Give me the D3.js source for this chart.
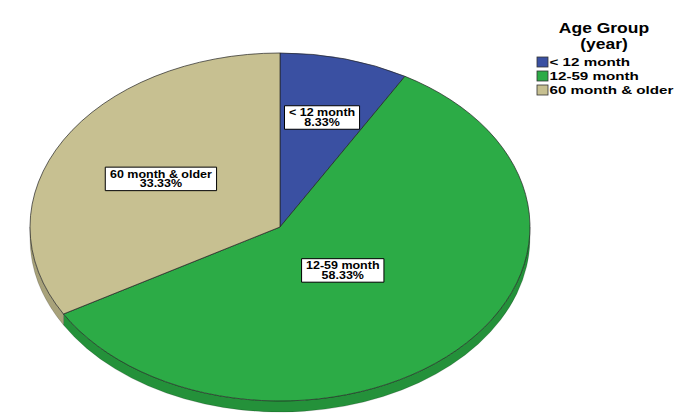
<!DOCTYPE html>
<html>
<head>
<meta charset="utf-8">
<script src="https://cdn.jsdelivr.net/npm/d3@7"></script>
<style>
  body { margin: 0; background: #fff; }
  text { font-family: "Liberation Sans", Arial, sans-serif; font-weight: bold; fill: #000; }
</style>
</head>
<body>
<svg id="chart" width="693" height="418"></svg>
<script>
// data
const categories = ['< 12 month', '12-59 month', '60 month & older']
const percents = [8.33, 58.33, 33.33]
const legendTitle = ['Age Group', '(year)']

const topColors = ['#3a50a2', '#2cab46', '#c7c091']
const sideColors = ['#2e408a', '#24913a', '#a8a27a']
// how far out along the radius each label box sits
const labelRadius = [0.65, 0.355, 0.55]

const width = 693, height = 418
const cx = 280, cy = 227, rx = 250, ry = 174, depth = 11
const squash = ry / rx

const svg = d3.select('#chart')

const pie = d3.pie().sort(null).value(d => d)
const slices = pie(percents).map((d, i) => Object.assign(d, { idx: i }))

const arc = d3.arc().innerRadius(0).outerRadius(rx)

let pieGroup = svg.append('g').attr('class', 'pie')
  .attr('transform', `translate(${cx},${cy}) scale(1,${squash})`)

// side walls, only the front half (angles PI/2 .. 3PI/2 from top) can be seen
const D = depth / squash
const sidePath = (s, e) => {
  const a0 = s - Math.PI / 2, a1 = e - Math.PI / 2
  const p = d3.path()
  p.moveTo(rx * Math.cos(a0), rx * Math.sin(a0))
  p.arc(0, 0, rx, a0, a1, false)
  p.lineTo(rx * Math.cos(a1), rx * Math.sin(a1) + D)
  p.arc(0, D, rx, a1, a0, true)
  p.closePath()
  return p.toString()
}

slices.forEach(d => {
  const s = Math.max(d.startAngle, Math.PI / 2)
  const e = Math.min(d.endAngle, 3 * Math.PI / 2)
  if (e <= s) return
  pieGroup.append('path')
    .attr('class', 'side')
    .attr('d', sidePath(s, e))
    .attr('fill', sideColors[d.idx])
    .attr('stroke', 'rgba(0,0,0,0.35)')
    .attr('stroke-width', 0.5)
    .attr('vector-effect', 'non-scaling-stroke')
})

pieGroup.selectAll('path.slice')
  .data(slices)
  .enter().append('path')
  .attr('class', 'slice')
  .attr('d', arc)
  .attr('fill', d => topColors[d.idx])
  .attr('stroke', '#222')
  .attr('stroke-width', 0.7)
  .attr('vector-effect', 'non-scaling-stroke')

// label boxes
const labelScaleX = 1.25
slices.forEach(d => {
  const mid = (d.startAngle + d.endAngle) / 2
  const f = labelRadius[d.idx]
  const x = cx + rx * f * Math.sin(mid)
  const y = cy - ry * f * Math.cos(mid)
  let lg = svg.append('g').attr('class', 'label')
    .attr('transform', `translate(${x},${y}) scale(${labelScaleX},1)`)
  let box = lg.append('rect')
  let t1 = lg.append('text').attr('text-anchor', 'middle').attr('y', -1.5)
    .style('font-size', '10px').text(categories[d.idx])
  let t2 = lg.append('text').attr('text-anchor', 'middle').attr('y', 8)
    .style('font-size', '10px').text(d.value.toFixed(2) + '%')
  const w = Math.max(t1.node().getBBox().width, t2.node().getBBox().width) + 7
  box.attr('x', -w / 2).attr('y', -12).attr('width', w).attr('height', 23.5)
    .attr('fill', '#fff').attr('stroke', '#000').attr('stroke-width', 1)
    .attr('vector-effect', 'non-scaling-stroke')
})

// legend
let legend = svg.append('g').attr('class', 'legend')
legend.selectAll('text.title')
  .data(legendTitle)
  .enter().append('text')
  .attr('class', 'title')
  .attr('transform', (d, i) => `translate(604,${32.5 + i * 16}) scale(1.25,1)`)
  .attr('text-anchor', 'middle')
  .style('font-size', '14px')
  .text(d => d)

let items = legend.selectAll('g.item')
  .data(categories)
  .enter().append('g')
  .attr('class', 'item')
  .attr('transform', (d, i) => `translate(537,${57 + i * 14})`)

items.append('rect')
  .attr('width', 11).attr('height', 10)
  .attr('fill', (d, i) => topColors[i])
  .attr('stroke', '#333').attr('stroke-width', 0.8)

items.append('text')
  .attr('transform', 'translate(12.5,9) scale(1.38,1)')
  .style('font-size', '11px')
  .text(d => d)
</script>
</body>
</html>
